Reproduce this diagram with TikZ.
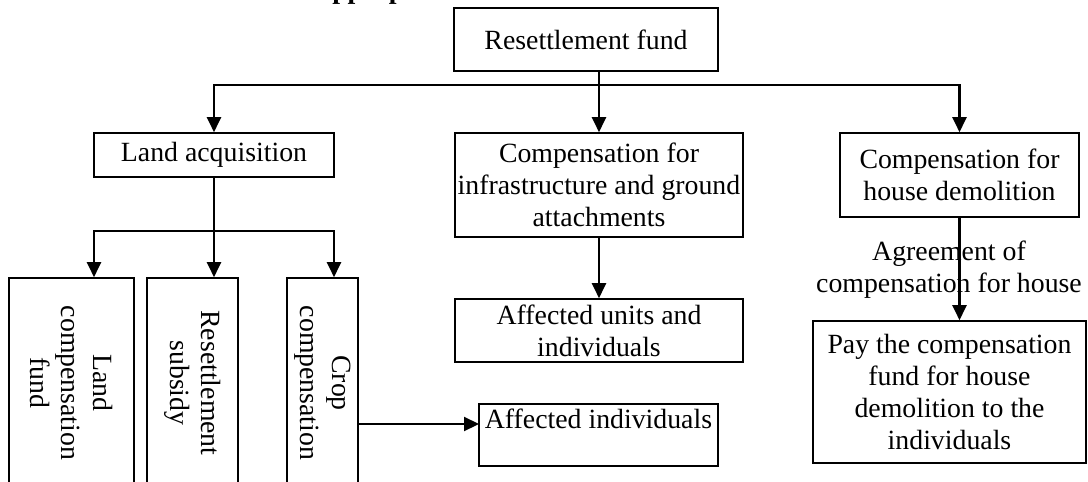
\documentclass[tikz,border=0pt]{standalone}
\usepackage{fontspec}
\setmainfont{Liberation Serif}
\usetikzlibrary{arrows.meta}

\begin{document}
\begin{tikzpicture}[x=1pt, y=-1pt, >={Triangle[length=15pt, width=14pt]},
    txt/.style={font=\fontsize{27.8}{31.7}\selectfont, inner sep=0pt, align=center},
    box/.style={txt, draw, line width=1.6pt},
    tate/.style={box, rotate=-90, minimum width=210pt},
    conn/.style={line width=2.2pt}]
    % 画像の大きさ (上端のタイトルは切れている)
    \useasboundingbox (0,0) rectangle (1088,482);

    % タイトル (下の端だけが見える)
    \node[anchor=base west, inner sep=0pt, font=\bfseries\fontsize{27.8}{31.7}\selectfont] (title) at (195,-2)
        {Chart\hspace{46pt}Appropriation Channels of Resettlement Fund};

    % -------------------------------------------------------------
    % 箱
    % -------------------------------------------------------------
    \node[box, minimum width=264pt, minimum height=63pt] (fund) at (586,39.5) {Resettlement fund};
    \node[box, minimum width=240pt, minimum height=44pt] (land) at (214,155) {Land acquisition};
    \node[box, minimum width=288pt, minimum height=104pt] (infra) at (599,185)
        {Compensation for\\infrastructure and ground\\attachments};
    \node[box, minimum width=239pt, minimum height=84pt] (house) at (959.5,175)
        {Compensation for\\house demolition};
    \node[box, minimum width=288pt, minimum height=63pt] (units) at (599,330.5)
        {Affected units and\\individuals};
    \node[box, minimum width=239pt, minimum height=62pt] (affind) at (598.5,435)
        {Affected individuals\\~};
    \node[box, minimum width=273pt, minimum height=142pt] (pay) at (949.5,392)
        {Pay the compensation\\fund for house\\demolition to the\\individuals};

    % 縦書きの箱 (下端は画像の外)
    \node[tate, minimum height=125pt] (lcf) at (71.5,383) {Land\\compensation\\fund};
    \node[tate, minimum height=91pt] (rs) at (192.5,383) {Resettlement\\subsidy};
    \node[tate, minimum height=71pt] (crop) at (322.5,383) {Crop\\compensation};

    % 矢印のラベル
    \node[txt] (agree) at (949,270) {Agreement of\\compensation for house};

    % -------------------------------------------------------------
    % 矢印
    % -------------------------------------------------------------
    \coordinate (bl) at (214,85);
    \coordinate (bm) at (599,85);
    \coordinate (br) at (959.5,85);
    \coordinate (sl) at (94,231);
    \coordinate (sm) at (214,231);
    \coordinate (sr) at (334,231);
    \coordinate (ci) at (479,424);

    \draw[conn] (fund.south -| bm) -- (bm);
    \draw[conn, <->] (land.north) -- (bl) -- (br) -- (house.north);
    \draw[conn, ->] (bm) -- (infra.north);

    \draw[conn] (land.south) -- (sm);
    \draw[conn, <->] (sl |- lcf.west) -- (sl) -- (sr) -- (sr |- crop.west);
    \draw[conn, ->] (sm) -- (sm |- rs.west);

    \draw[conn, ->] (infra.south) -- (units.north);
    \draw[conn, ->] (crop.north |- ci) -- (ci);
    \draw[conn, ->] (house.south) -- (house.south |- pay.north);

\end{tikzpicture}
\end{document}
